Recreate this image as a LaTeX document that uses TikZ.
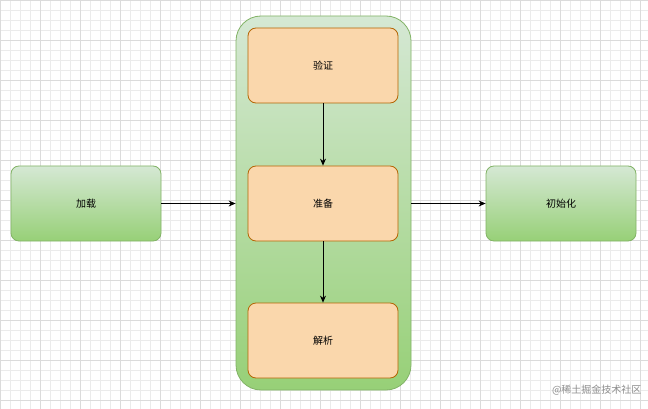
\documentclass[tikz,border=0pt]{standalone}
\usepackage{fontspec}
\setmainfont{Noto Sans CJK SC}
\usetikzlibrary{arrows.meta}
\definecolor{gl}{HTML}{D5E8D4}\definecolor{gd}{HTML}{97D077}\definecolor{gs}{HTML}{82B366}
\definecolor{of}{HTML}{FAD7AC}\definecolor{os}{HTML}{B46504}
\begin{document}
\begin{tikzpicture}[x=1pt,y=-1pt,
 grn/.style={draw=gs,top color=gl,bottom color=gd,rounded corners=8pt,line width=0.8pt},
 org/.style={draw=os,fill=of,rounded corners=8pt,line width=0.8pt,minimum width=150pt,minimum height=75pt,font=\fontsize{10}{12}\selectfont},
 arr/.style={-{Stealth[length=7pt,width=6pt]},line width=0.8pt}]
\useasboundingbox (0,0) rectangle (648,409);
\fill[white] (0,0) rectangle (648,409);
\foreach \i in {0,10,...,648} \draw[black!8,line width=0.4pt] (\i,0)--(\i,409);
\foreach \j in {0,10,...,409} \draw[black!8,line width=0.4pt] (0,\j)--(648,\j);
\foreach \i in {0,40,...,648} \draw[black!14,line width=0.4pt] (\i,0)--(\i,409);
\foreach \j in {0,40,...,409} \draw[black!14,line width=0.4pt] (0,\j)--(648,\j);
\node[grn,rounded corners=25pt,minimum width=175pt,minimum height=374pt] (c) at (323.5,203) {};
\node[org] (v) at (323,65.5) {验证};
\node[org] (p) at (323,203.5) {准备};
\node[org] (j) at (323,340.5) {解析};
\node[grn,minimum width=150pt,minimum height=75pt,font=\fontsize{10}{12}\selectfont] (l) at (86,203.5) {加载};
\node[grn,minimum width=150pt,minimum height=75pt,font=\fontsize{10}{12}\selectfont] (i) at (561,203.5) {初始化};
\draw[arr] (l.east)--(c.west|-l.east);
\draw[arr] (c.east|-i.west)--(i.west);
\draw[arr] (v.south)--(p.north);
\draw[arr] (p.south)--(j.north);
\node[text=black!45,font=\fontsize{10}{12}\selectfont,anchor=east] (w) at (645,390) {@稀土掘金技术社区};
\end{tikzpicture}
\end{document}
